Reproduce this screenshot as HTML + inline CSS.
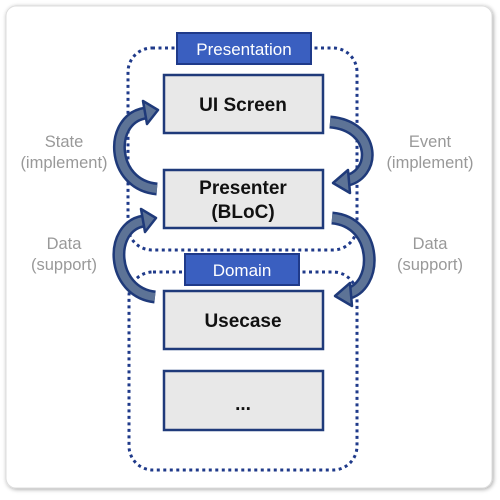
<!DOCTYPE html>
<html><head><style>
body{margin:0;width:500px;height:495px;background:#fff;overflow:hidden;font-family:"Liberation Sans",sans-serif}
</style></head><body>
<svg width="500" height="495" xmlns="http://www.w3.org/2000/svg">
<defs>
<filter id="sh" x="-5%" y="-5%" width="110%" height="110%"><feDropShadow dx="1" dy="1" stdDeviation="2" flood-color="#000" flood-opacity="0.35"/></filter>
</defs>
<rect x="6" y="6" width="486" height="482" rx="10" fill="#fff" stroke="#ddd" filter="url(#sh)"/>
<rect x="128" y="48" width="229" height="202" rx="24" fill="none" stroke="#1f3a8a" stroke-width="3" stroke-dasharray="3 3.5"/>
<rect x="129" y="272" width="228" height="198" rx="24" fill="none" stroke="#1f3a8a" stroke-width="3" stroke-dasharray="3 3.5"/>
<g fill="#e8e8e8" stroke="#1f3a7a" stroke-width="2.5">
<rect x="164" y="75" width="159" height="58"/>
<rect x="164" y="170" width="159" height="58"/>
<rect x="164" y="291" width="159" height="58"/>
<rect x="164" y="371" width="159" height="59"/>
</g>
<rect x="177" y="33" width="134" height="31" fill="#3a5fc0" stroke="#1f3a8a" stroke-width="2"/>
<rect x="185" y="254" width="114" height="31" fill="#3a5fc0" stroke="#1f3a8a" stroke-width="2"/>
<g font-family="Liberation Sans, sans-serif" text-anchor="middle">
<text x="244" y="55" font-size="17" fill="#fff">Presentation</text>
<text x="242" y="276" font-size="17" fill="#fff">Domain</text>
<g font-weight="bold" font-size="19" fill="#111">
<text x="243" y="111">UI Screen</text>
<text x="243" y="194">Presenter</text>
<text x="243" y="218">(BLoC)</text>
<text x="243" y="327">Usecase</text>
<text x="243" y="410">...</text>
</g>
<g font-size="16.5" fill="#999">
<text x="64" y="147">State</text>
<text x="64" y="168">(implement)</text>
<text x="64" y="249">Data</text>
<text x="64" y="270">(support)</text>
<text x="430" y="147">Event</text>
<text x="430" y="168">(implement)</text>
<text x="430" y="249">Data</text>
<text x="430" y="270">(support)</text>
</g>
</g>
<g fill="none" stroke-linecap="butt">
<g stroke="#1f3a7a" stroke-width="13">
<path d="M157,189 C110,185 108,118 146,113"/>
<path d="M155,297 C110,292 108,226 144,221"/>
<path d="M330,122 C377,126 377,176 344,181"/>
<path d="M332,218 C379,222 379,288 346,294"/>
</g>
<g stroke="#5d7396" stroke-width="8">
<path d="M157,189 C110,185 108,118 146,113"/>
<path d="M155,297 C110,292 108,226 144,221"/>
<path d="M330,122 C377,126 377,176 344,181"/>
<path d="M332,218 C379,222 379,288 346,294"/>
</g>
</g>
<g fill="#5d7396" stroke="#1f3a7a" stroke-width="2.5" stroke-linejoin="round">
<polygon points="143,101 158,110 147,124"/>
<polygon points="141,209 156,218 145,232"/>
<polygon points="348,170 333,183 350,193"/>
<polygon points="350,283 335,296 352,306"/>
</g>
</svg>
</body></html>
